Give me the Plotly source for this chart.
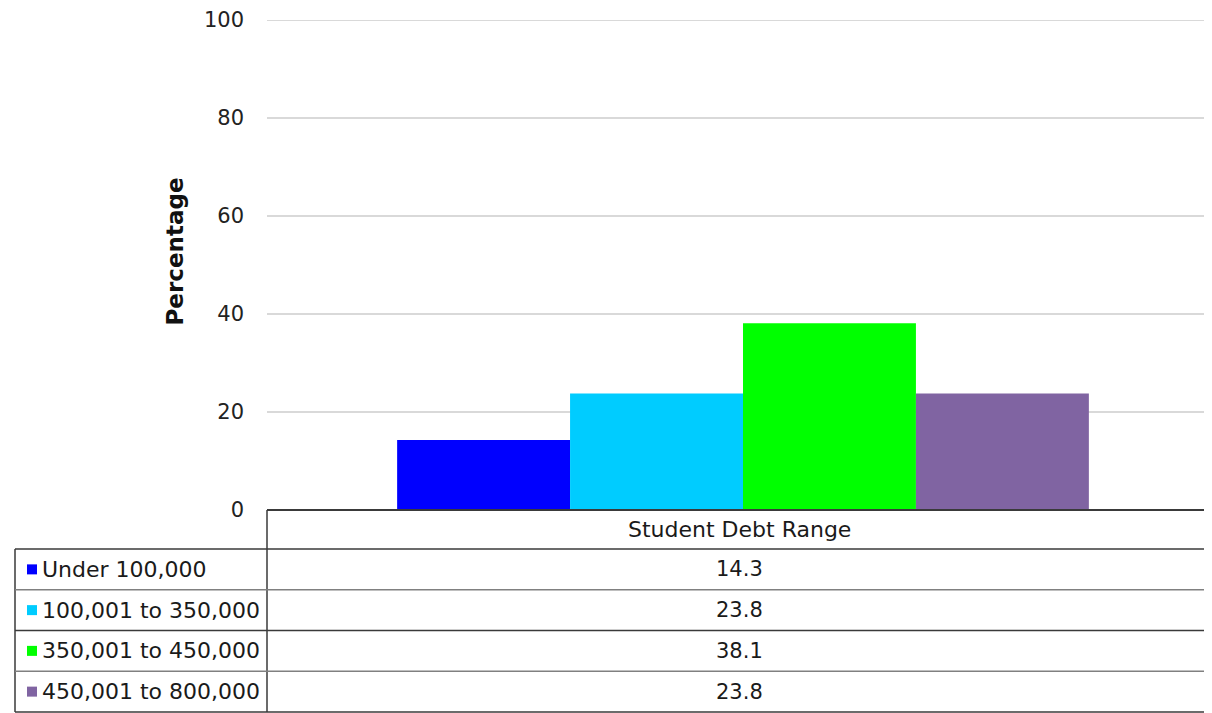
import plotly.graph_objects as go

category = ["Student Debt Range"]
series_names = ["Under 100,000", "100,001 to 350,000", "350,001 to 450,000", "450,001 to 800,000"]
values = [14.3, 23.8, 38.1, 23.8]
colors = ["#0000ff", "#00ccff", "#00ff00", "#8064a2"]
y_ticks = [0, 20, 40, 60, 80, 100]
y_title = "Percentage"

# figure geometry (pixels inside the figure)
W, H = 1204, 705
TOP = 12
PLOT_H = H - TOP
PLOT_LEFT = 259
AXIS_BOTTOM = 502
TABLE_LEFT = 7
HEADER_H = 39
ROW_H = 40.75
LINE_COLOR = "#3a3a3a"
GRID_COLOR = "#d9d9d9"
FONT = "'DejaVu Sans', sans-serif"
TEXT_COLOR = "#1a1a1a"


def px(x):
    return x / W


def py(y):
    return (H - y) / PLOT_H


fig = go.Figure()
for name, v, c in zip(series_names, values, colors):
    fig.add_trace(go.Bar(x=category, y=[v], name=name,
                         marker=dict(color=c, line=dict(width=0)), showlegend=False))

shapes = []
annotations = []

# top gridline (at the range edge)
shapes.append(dict(type="line", xref="x domain", yref="y", x0=0, x1=1, y0=y_ticks[-1], y1=y_ticks[-1],
                   line=dict(color=GRID_COLOR, width=2), layer="below"))

# data table: header
header_mid = AXIS_BOTTOM + HEADER_H / 2
annotations.append(dict(xref="paper", yref="paper", x=px((PLOT_LEFT + W) / 2), y=py(header_mid),
                        text=category[0], showarrow=False, xanchor="center", yanchor="middle",
                        font=dict(family=FONT, size=22, color=TEXT_COLOR)))
shapes.append(dict(type="line", xref="paper", yref="paper", x0=px(PLOT_LEFT), x1=1,
                   y0=py(AXIS_BOTTOM), y1=py(AXIS_BOTTOM), line=dict(color=LINE_COLOR, width=2)))
n = len(series_names)
rows_top = AXIS_BOTTOM + HEADER_H
table_bottom = rows_top + n * ROW_H
shapes.append(dict(type="line", xref="paper", yref="paper", x0=px(PLOT_LEFT), x1=px(PLOT_LEFT),
                   y0=py(AXIS_BOTTOM), y1=py(table_bottom), line=dict(color=LINE_COLOR, width=1.5)))
shapes.append(dict(type="line", xref="paper", yref="paper", x0=px(TABLE_LEFT), x1=px(TABLE_LEFT),
                   y0=py(rows_top), y1=py(table_bottom), line=dict(color=LINE_COLOR, width=1.5)))
for i in range(n + 1):
    yy = rows_top + i * ROW_H
    shapes.append(dict(type="line", xref="paper", yref="paper", x0=px(TABLE_LEFT), x1=1,
                       y0=py(yy), y1=py(yy),
                       line=dict(color=LINE_COLOR if i % 2 == 0 else "#808080", width=1.5)))

for i, (name, v, c) in enumerate(zip(series_names, values, colors)):
    mid = rows_top + (i + 0.5) * ROW_H
    shapes.append(dict(type="rect", xref="paper", yref="paper",
                       x0=px(TABLE_LEFT + 12), x1=px(TABLE_LEFT + 22),
                       y0=py(mid + 5), y1=py(mid - 5), fillcolor=c, line=dict(width=0)))
    annotations.append(dict(xref="paper", yref="paper", x=px(TABLE_LEFT + 25), y=py(mid),
                            text=name, showarrow=False, xanchor="left", yanchor="middle",
                            font=dict(family=FONT, size=22, color=TEXT_COLOR)))
    annotations.append(dict(xref="paper", yref="paper", x=px((PLOT_LEFT + W) / 2), y=py(mid),
                            text=f"{v:.1f}", showarrow=False, xanchor="center", yanchor="middle",
                            font=dict(family=FONT, size=21, color=TEXT_COLOR)))

# y-axis title
annotations.append(dict(xref="paper", yref="paper", x=px(166), y=py(243.5), text=f"<b>{y_title}</b>",
                        textangle=-90, showarrow=False, xanchor="center", yanchor="middle",
                        font=dict(family=FONT, size=23, color="#111111")))

fig.update_layout(
    width=W, height=H,
    margin=dict(l=0, r=0, t=TOP, b=0, autoexpand=False),
    paper_bgcolor="white", plot_bgcolor="white",
    barmode="group", bargap=0.268, bargroupgap=0,
    font=dict(family=FONT, size=21, color=TEXT_COLOR),
    xaxis=dict(domain=[px(PLOT_LEFT), 1], showticklabels=False, showgrid=False, zeroline=False,
               showline=False, range=[-0.5037, 0.4963], automargin=False, fixedrange=True),
    yaxis=dict(domain=[py(AXIS_BOTTOM), 1], range=[0, 100], tickvals=y_ticks,
               showgrid=True, gridcolor=GRID_COLOR, gridwidth=2, zeroline=False, showline=False,
               ticks="", ticklabelstandoff=22, automargin=False, fixedrange=True,
               tickfont=dict(family=FONT, size=21, color="#222222")),
    shapes=shapes,
    annotations=annotations,
)

fig.write_html("out.html")
